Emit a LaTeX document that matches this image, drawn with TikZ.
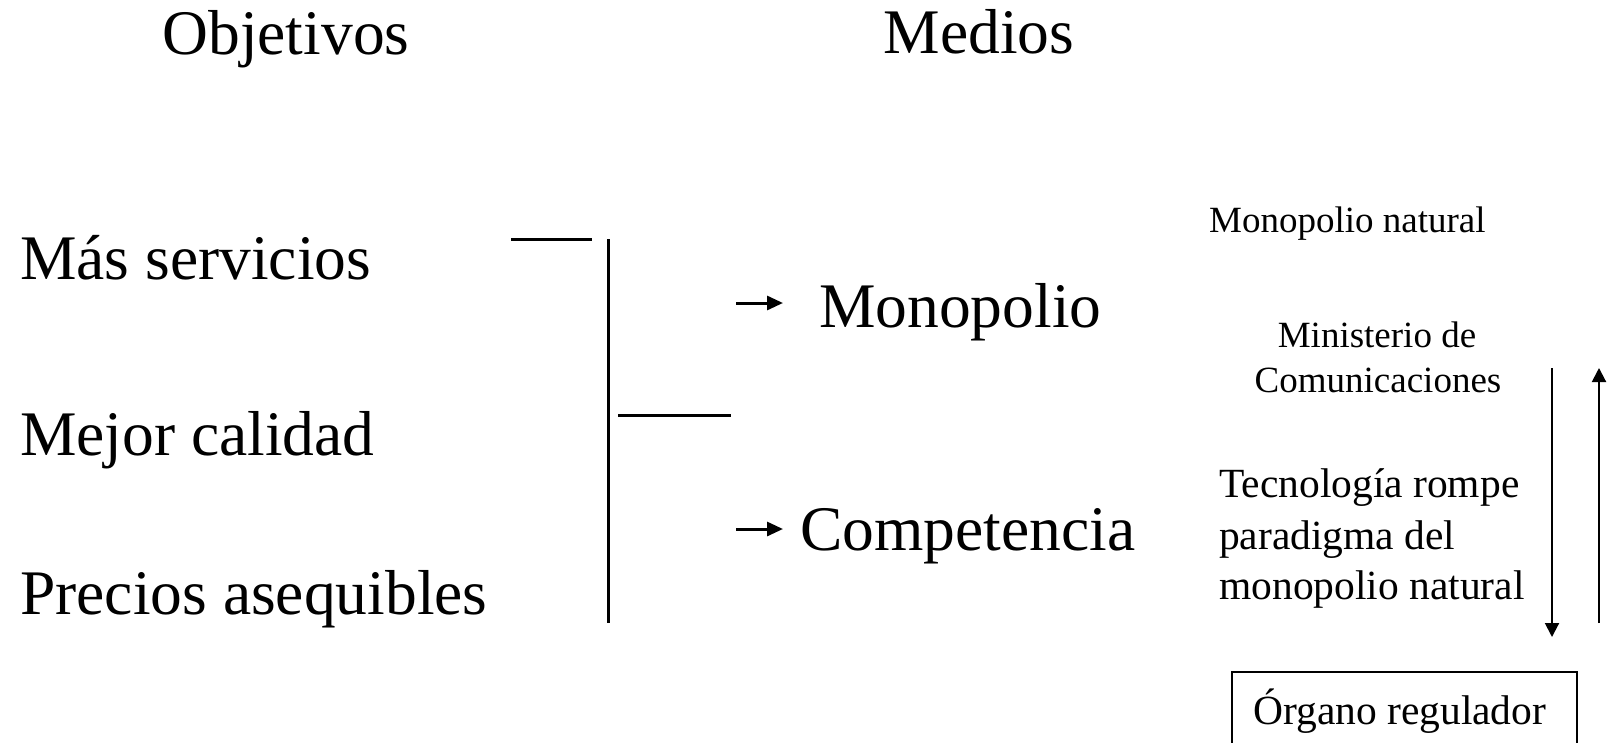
\documentclass[tikz,border=0pt]{standalone}
\usepackage{fontspec}
\setmainfont{Liberation Serif}
\usetikzlibrary{arrows.meta}
\tikzset{
  big/.style={inner sep=0pt, font=\fontsize{63.5}{76}\selectfont},
  mid/.style={inner sep=0pt, font=\fontsize{41.5}{50}\selectfont},
  small/.style={inner sep=0pt, font=\fontsize{37}{45}\selectfont},
  bar/.style={line width=3pt},
  smallarrow/.style={line width=3pt, -{Triangle[length=16pt,width=14pt]}},
  longarrow/.style={line width=2pt, -{Triangle[length=14pt,width=14pt]}},
}
\begin{document}
\begin{tikzpicture}[x=1pt,y=-1pt]
\useasboundingbox (0,0) rectangle (1609,742);
% headings
\node[big, anchor=base] (obj) at (286,54) {Objetivos};
\node[big, anchor=base] (med) at (979,53) {Medios};
% objectives
\node[big, anchor=base west] (mas) at (20,279) {Más servicios};
\node[big, anchor=base west] (mejor) at (20,455) {Mejor calidad};
\node[big, anchor=base west] (precios) at (20,614) {Precios asequibles};
% means
\node[big, anchor=base west] (mono) at (819,327) {Monopolio};
\node[big, anchor=base west] (comp) at (800,550) {Competencia};
% right column
\node[small, anchor=base west] (mn) at (1209,232) {Monopolio natural};
\node[small, anchor=base] (min1) at (1377,347) {Ministerio de};
\node[small, anchor=base] (min2) at (1378,392) {Comunicaciones};
\node[mid, anchor=base west] (tec1) at (1219,497) {Tecnología rompe};
\node[mid, anchor=base west] (tec2) at (1219,549) {paradigma del};
\node[mid, anchor=base west] (tec3) at (1219,599) {monopolio natural};
\node[mid, anchor=base west] (org) at (1253,724) {Órgano regulador};
\draw[line width=2pt] (1232,780) -- (1232,672) -- (1577,672) -- (1577,780);
% bracket lines
\coordinate (h1a) at (511,239);
\coordinate (h1b) at (592,239);
\coordinate (va) at (608,239);
\coordinate (vb) at (608,623);
\coordinate (h2a) at (618,415);
\coordinate (h2b) at (731,415);
\draw[bar] (h1a) -- (h1b);
\draw[bar] (va) -- (vb);
\draw[bar] (h2a) -- (h2b);
% small arrows
\coordinate (a1s) at (736,303);
\coordinate (a1e) at (783,303);
\coordinate (a2s) at (736,529);
\coordinate (a2e) at (783,529);
\draw[smallarrow] (a1s) -- (a1e);
\draw[smallarrow] (a2s) -- (a2e);
% vertical arrows
\coordinate (d1) at (1552,368);
\coordinate (d2) at (1552,637);
\coordinate (u1) at (1599,623);
\coordinate (u2) at (1599,368);
\draw[longarrow] (d1) -- (d2);
\draw[longarrow] (u1) -- (u2);
\end{tikzpicture}
\end{document}
